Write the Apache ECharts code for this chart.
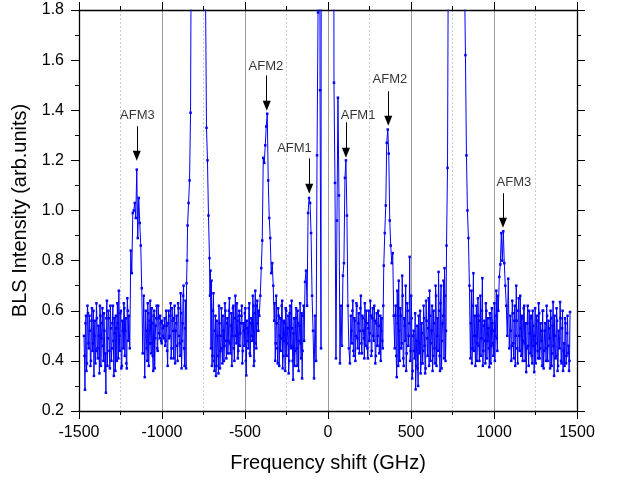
<!DOCTYPE html>
<html><head><meta charset="utf-8">
<script src="https://cdn.jsdelivr.net/npm/echarts@6/dist/echarts.min.js"></script>
<style>html,body{margin:0;padding:0;background:#fff}#c{width:618px;height:481px}</style>
</head><body><div id="c"></div>
<script>
// Frequency grid (GHz): segment i starts at segStarts[i], main points every STEP GHz,
// optional in-between points (…Mid arrays) at +STEP/2.
const STEP = 6;
const segStarts = [-1470, -1200, -1098, -846, -714, -414, -324, -144, -78, 66, 138, 336, 402, 720, 858, 1026, 1098];

const baseLeftOuter = [0.50,0.285,0.58,0.39,0.59,0.45,0.52,0.40,0.61,0.47,0.34,0.56,0.44,0.57,0.41,0.50,0.62,0.38,0.55,0.46,0.59,0.36,0.273,0.64,0.49,0.57,0.37,0.53,0.45,0.62,0.34,0.51,0.58,0.40,0.55,0.68,0.44,0.60,0.38,0.52,0.63,0.42,0.57,0.37,0.60];
const baseLeftOuterMid = [0.42,0.55,0.36,0.62,0.47,0.58,0.38,0.56,0.44,0.60,0.50,0.39,0.63,0.45,0.54,0.35,0.58,0.49,0.61,0.40,0.52,0.43,0.57,0.38,0.60,0.44,0.62,0.40,0.55,0.48,0.57,0.36,0.53,0.63,0.41,0.50,0.59,0.37,0.56,0.45,0.61,0.52,0.39,0.65,0.48];
const afm3Left = [0.58,0.45,0.84,0.75,0.99,1.00,1.03,0.97,1.163,0.89,1.05,0.95,0.86,0.69,0.43,0.66,0.335];
const baseLeftMid = [0.60,0.45,0.63,0.38,0.56,0.47,0.61,0.42,0.58,0.37,0.54,0.62,0.44,0.57,0.49,0.55,0.47,0.53,0.49,0.57,0.48,0.54,0.38,0.60,0.50,0.63,0.45,0.56,0.41,0.62,0.52,0.58,0.40,0.61,0.47,0.67,0.37,0.55,0.70,0.38,0.64,0.71];
const baseLeftMidMid = [0.52,0.40,0.59,0.47,0.64,0.43,0.55,0.36,0.60,0.49,0.57,0.45,0.62,0.51,0.58,0.48,0.56,0.50,0.54,0.46,0.60,0.44,0.55,0.49,0.58,0.41,0.61,0.52,0.57,0.39,0.55,0.46,0.63,0.50,0.42,0.59,0.48,0.66,0.45,0.53,0.37,0.80];
const brillouinLeft = [0.94,1.03,1.12,1.39,2.4,3.5,4.8,6.0,7.0,7.5,7.8,7.6,7.0,6.1,5.0,4.0,3.1,2.4,1.9,1.33,1.20,0.98];
const baseLeftInner = [0.81,0.76,0.72,0.42,0.67,0.36,0.58,0.38,0.50,0.35,0.55,0.44,0.61,0.39,0.52,0.46,0.60,0.41,0.57,0.48,0.65,0.43,0.59,0.50,0.62,0.40,0.66,0.47,0.56,0.44,0.60,0.51,0.58,0.39,0.55,0.46,0.61,0.342,0.53,0.45,0.63,0.42,0.57,0.48,0.62,0.40,0.68,0.45,0.64,0.52];
const baseLeftInnerMid = [0.66,0.45,0.38,0.60,0.40,0.52,0.34,0.56,0.42,0.62,0.37,0.50,0.45,0.58,0.40,0.63,0.48,0.55,0.43,0.60,0.47,0.54,0.38,0.61,0.45,0.57,0.50,0.63,0.41,0.58,0.46,0.55,0.62,0.44,0.52,0.59,0.40,0.56,0.48,0.61,0.43,0.55,0.50,0.66,0.38,0.59,0.47,0.62,0.55,0.60];
const afm2Left = [0.58,0.66,0.77,0.88,1.21,1.19,1.26,1.335,1.386,1.12,0.97,0.89,0.75,0.79,0.70];
const baseLeftCore = [0.56,0.40,0.66,0.45,0.61,0.38,0.57,0.49,0.64,0.42,0.55,0.36,0.60,0.47,0.58,0.40,0.62,0.45,0.53,0.325,0.57,0.44,0.61,0.38,0.55,0.48,0.63,0.41,0.33,0.58];
const baseLeftCoreMid = [0.63,0.47,0.55,0.39,0.58,0.50,0.44,0.62,0.37,0.56,0.48,0.61,0.42,0.53,0.35,0.59,0.46,0.64,0.40,0.51,0.38,0.57,0.45,0.60,0.36,0.54,0.47,0.59,0.44,0.62];
const afm1Left = [0.48,0.715,0.76,0.62,0.99,1.05,1.03,0.91,0.66,0.52,0.33];
const central = [0.58,0.40,1.22,1.79,4.5,1.48,0.45,9,15,22,30,45,60,70,60,45,30,18,6,1.51,1.11,0.41,0.96,1.45];
const afm1Right = [1.06,0.39,0.62,0.46,0.74,0.79,1.13,1.20,0.98,0.62,0.45,0.39];
const baseRightCore = [0.58,0.47,0.64,0.42,0.56,0.50,0.62,0.45,0.59,0.52,0.66,0.43,0.57,0.49,0.63,0.46,0.55,0.41,0.60,0.51,0.58,0.44,0.61,0.48,0.56,0.42,0.59,0.50,0.54,0.46,0.40,0.57,0.45];
const baseRightCoreMid = [0.52,0.60,0.44,0.57,0.40,0.63,0.49,0.55,0.43,0.61,0.47,0.58,0.52,0.41,0.56,0.60,0.45,0.53,0.48,0.64,0.42,0.57,0.50,0.62,0.39,0.55,0.46,0.60,0.43,0.58,0.52,0.48,0.62];
const afm2Right = [0.78,0.91,1.02,1.27,1.323,1.227,0.96,0.86,0.79,0.83,0.58];
const baseRightInner = [0.45,0.62,0.335,0.55,0.72,0.40,0.58,0.47,0.66,0.38,0.54,0.70,0.43,0.60,0.50,0.815,0.44,0.57,0.36,0.52,0.41,0.286,0.48,0.37,0.58,0.43,0.35,0.55,0.39,0.62,0.46,0.37,0.56,0.42,0.65,0.68,0.40,0.52,0.36,0.60,0.45,0.70,0.38,0.57,0.755,0.42,0.63,0.37,0.55,0.72,0.77,0.40,0.86];
const baseRightInnerMid = [0.58,0.42,0.68,0.38,0.52,0.61,0.45,0.74,0.41,0.57,0.48,0.36,0.63,0.46,0.55,0.40,0.66,0.33,0.50,0.44,0.59,0.38,0.54,0.30,0.47,0.60,0.39,0.51,0.44,0.57,0.35,0.64,0.49,0.53,0.38,0.58,0.47,0.62,0.42,0.55,0.39,0.66,0.50,0.44,0.60,0.36,0.70,0.48,0.58,0.41,0.66,0.52];
const brillouinRight = [1.17,2.3,3.4,4.6,5.8,6.8,7.5,7.9,8.0,7.8,7.3,6.6,5.7,4.7,3.8,3.0,2.4,1.95,1.62,1.22,1.0,0.89,0.70];
const baseRightMid = [0.41,0.68,0.45,0.75,0.50,0.38,0.62,0.47,0.58,0.40,0.66,0.49,0.73,0.44,0.56,0.39,0.60,0.48,0.53,0.375,0.57,0.46,0.55,0.42,0.63,0.50,0.68,0.44];
const baseRightMidMid = [0.55,0.39,0.62,0.44,0.58,0.50,0.40,0.65,0.46,0.56,0.42,0.60,0.38,0.54,0.48,0.63,0.41,0.57,0.45,0.59,0.39,0.61,0.47,0.52,0.40,0.58,0.49,0.66];
const afm3Right = [0.60,0.735,0.785,0.91,0.80,0.917,0.79,0.70,0.62,0.50,0.728,0.45];
const baseRightOuter = [0.58,0.40,0.64,0.47,0.56,0.38,0.70,0.45,0.60,0.50,0.66,0.42,0.57,0.48,0.62,0.40,0.355,0.55,0.46,0.60,0.43,0.58,0.39,0.54,0.355,0.61,0.47,0.56,0.41,0.59,0.45,0.52,0.38,0.60,0.44,0.55,0.40,0.58,0.46,0.53,0.37,0.57,0.43,0.635,0.34,0.50,0.42,0.56,0.38,0.49,0.635,0.40,0.53,0.36,0.47,0.57,0.39,0.51,0.43,0.36,0.595];
const baseRightOuterMid = [0.52,0.46,0.59,0.41,0.62,0.50,0.56,0.39,0.65,0.44,0.53,0.58,0.40,0.61,0.47,0.55,0.45,0.62,0.38,0.51,0.57,0.42,0.60,0.46,0.50,0.39,0.58,0.44,0.63,0.41,0.55,0.48,0.60,0.37,0.52,0.45,0.62,0.40,0.56,0.49,0.60,0.38,0.54,0.46,0.58,0.41,0.61,0.36,0.52,0.45,0.57,0.39,0.60,0.44,0.38,0.55,0.42,0.58,0.46,0.40];

const segments = [
  [baseLeftOuter, baseLeftOuterMid], [afm3Left, null], [baseLeftMid, baseLeftMidMid],
  [brillouinLeft, null], [baseLeftInner, baseLeftInnerMid], [afm2Left, null],
  [baseLeftCore, baseLeftCoreMid], [afm1Left, null], [central, null], [afm1Right, null],
  [baseRightCore, baseRightCoreMid], [afm2Right, null], [baseRightInner, baseRightInnerMid],
  [brillouinRight, null], [baseRightMid, baseRightMidMid], [afm3Right, null],
  [baseRightOuter, baseRightOuterMid]
];

// Annotations (data coordinates)
const annLabels = ['AFM3','AFM2','AFM1','AFM1','AFM2','AFM3'];
const annX = [-1152,-369,-113,108,363,1054];
const annTail = [1.336,1.539,1.208,1.352,1.476,1.069];
const annHead = [1.218,1.418,1.087,1.230,1.358,0.951];
const annTextX = [-1148,-374,-202,181,373,1120];
const annTextY = [1.38,1.573,1.248,1.38,1.523,1.113];

const data = [];
segments.forEach(([main, mid], s) => main.forEach((v, k) => {
  data.push([segStarts[s] + STEP * k, v]);
  if (mid && k < mid.length) data.push([segStarts[s] + STEP * k + STEP / 2, mid[k]]);
}));

const FONT = 'Liberation Sans, Arial, sans-serif';
const chart = echarts.init(document.getElementById('c'), null, {renderer: 'canvas'});

const xBase = (pos, showLabel) => ({
  type: 'value', position: pos, min: -1500, max: 1500, interval: 500,
  axisLine: {show: true, onZero: false, lineStyle: {color: '#000', width: 1.3}},
  axisTick: {show: true, inside: false, length: 8, lineStyle: {color: '#000', width: 1}},
  minorTick: {show: true, splitNumber: 2, length: 4, lineStyle: {color: '#000', width: 1}},
  axisLabel: {show: showLabel, fontSize: 16, color: '#000', margin: 14, fontFamily: FONT,
    formatter: v => String(v)},
  splitLine: {show: showLabel, lineStyle: {color: '#9a9a9a', width: 1}},
  minorSplitLine: {show: showLabel, lineStyle: {color: '#cfcfcf', width: 1, type: [2, 2]}}
});
const yBase = (pos, showLabel) => ({
  type: 'value', position: pos, min: 0.2, max: 1.8, interval: 0.2,
  axisLine: {show: true, onZero: false, lineStyle: {color: '#000', width: 1.3}},
  axisTick: {show: true, inside: false, length: 8, lineStyle: {color: '#000', width: 1}},
  minorTick: {show: true, splitNumber: 2, length: 4, lineStyle: {color: '#000', width: 1}},
  axisLabel: {show: showLabel, fontSize: 16, color: '#000', margin: 15, fontFamily: FONT,
    formatter: v => v.toFixed(1)},
  splitLine: {show: false}
});

const x0 = xBase('bottom', true);
x0.name = 'Frequency shift (GHz)';
x0.nameLocation = 'middle';
x0.nameGap = 42;
x0.nameTextStyle = {fontSize: 20, color: '#000', fontFamily: FONT};
const x1 = xBase('top', false);
const y0 = yBase('left', true);
y0.name = 'BLS Intensity (arb.units)';
y0.nameLocation = 'middle';
y0.nameGap = 39;
y0.nameTextStyle = {fontSize: 20, color: '#000', fontFamily: FONT};
const y1 = yBase('right', false);

chart.setOption({
  animation: false,
  backgroundColor: '#fff',
  grid: {left: 79, right: 41, top: 10, bottom: 70, containLabel: false},
  xAxis: [x0, x1],
  yAxis: [y0, y1],
  series: [
    {
      type: 'line', xAxisIndex: 0, yAxisIndex: 0, data: data,
      symbol: 'rect', symbolSize: 2.5, showAllSymbol: true, sampling: false,
      clip: true,
      lineStyle: {color: '#0000ff', width: 1},
      itemStyle: {color: '#0000ff'},
      emphasis: {disabled: true},
      markLine: {
        silent: true, animation: false,
        symbol: ['none', 'triangle'], symbolSize: [8, 10],
        lineStyle: {color: '#000', width: 1, type: 'solid'},
        label: {show: false},
        emphasis: {disabled: true},
        data: annX.map((x, i) => [{coord: [x, annTail[i]]}, {coord: [x, annHead[i]]}])
      }
    },
    {
      type: 'scatter', xAxisIndex: 0, yAxisIndex: 0,
      data: annLabels.map((t, i) => [annTextX[i], annTextY[i], t]),
      symbolSize: 0, silent: true,
      label: {show: true, position: 'inside', formatter: p => p.data[2],
        color: '#000', fontSize: 13, fontFamily: FONT}
    }
  ]
});
</script></body></html>
